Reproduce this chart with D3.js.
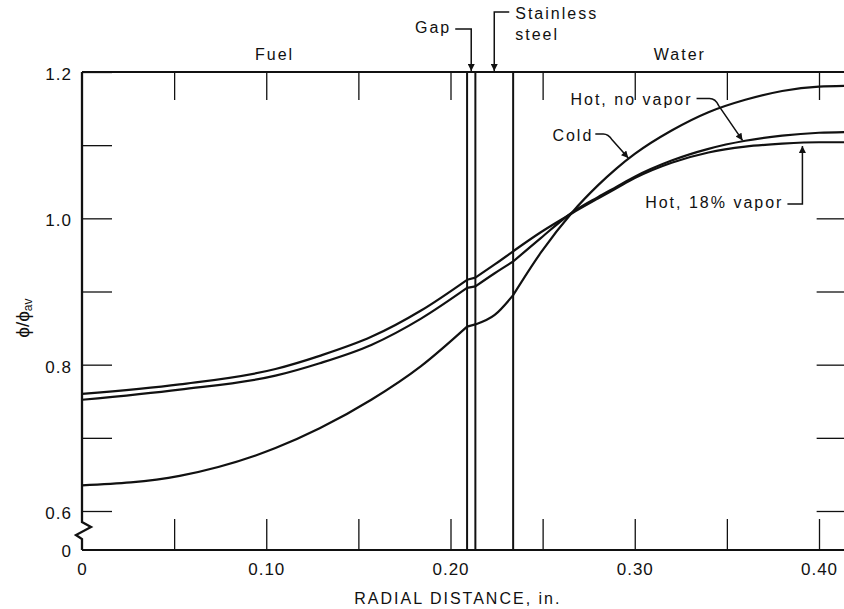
<!DOCTYPE html>
<html>
<head>
<meta charset="utf-8">
<script src="https://cdn.jsdelivr.net/npm/d3@7"></script>
<style>
  html, body { margin: 0; padding: 0; background: #fff; }
  svg { display: block; }
  text { font-family: "Liberation Sans", Arial, Helvetica, sans-serif; fill: #111; }
</style>
</head>
<body>
<svg id="chart" width="844" height="609"></svg>
<script>
// Radial positions (in.) at which the relative thermal flux is tabulated
const radialDistance = [0, 0.053, 0.105, 0.129, 0.157, 0.184, 0.209, 0.2135, 0.224, 0.234,
                        0.249, 0.266, 0.28, 0.29, 0.30, 0.32, 0.34, 0.36, 0.38, 0.40, 0.415];

// phi / phi_av for each moderator condition
const fluxCold       = [0.635, 0.648, 0.686, 0.713, 0.752, 0.798, 0.852, 0.855, 0.868, 0.895,
                        0.953, 1.008, 1.045, 1.068, 1.088, 1.120, 1.145, 1.162, 1.174, 1.180, 1.181];
const fluxHotNoVapor = [0.752, 0.766, 0.785, 0.802, 0.827, 0.863, 0.905, 0.907, 0.925, 0.941,
                        0.973, 1.008, 1.029, 1.043, 1.057, 1.079, 1.095, 1.106, 1.113, 1.117, 1.118];
const fluxHot18Vapor = [0.760, 0.773, 0.794, 0.812, 0.838, 0.874, 0.916, 0.919, 0.937, 0.955,
                        0.981, 1.007, 1.027, 1.041, 1.055, 1.076, 1.090, 1.098, 1.102, 1.104, 1.104];

// Material boundaries (in.): fuel surface, gap outer edge, stainless steel outer edge
const interfaces = [0.209, 0.2135, 0.234];
const cellEdge = 0.415;

// Axis ticks and labels
const xTickValues = [0, 0.05, 0.10, 0.15, 0.20, 0.25, 0.30, 0.35, 0.40];
const xTickLabels = new Map([[0, "0"], [0.10, "0.10"], [0.20, "0.20"], [0.30, "0.30"], [0.40, "0.40"]]);
const yTickValues = [0.6, 0.7, 0.8, 0.9, 1.0, 1.1, 1.2];
const yRightTickValues = [0.6, 0.7, 0.8, 0.9, 1.0];
const yTickLabels = new Map([[0.6, "0.6"], [0.8, "0.8"], [1.0, "1.0"], [1.2, "1.2"]]);
const yOriginLabel = "0";
const xTitle = "RADIAL DISTANCE, in.";

// Curve annotations
const seriesLabels = ["Cold", "Hot, no vapor", "Hot, 18% vapor"];

const ink = "#111";
const svg = d3.select("#chart");

const x = d3.scaleLinear().domain([0, cellEdge]).range([82, 82 + cellEdge * 1842.5]);
const y = d3.scaleLinear().domain([0.6, 1.2]).range([511, 72]);
const originY = 550;           // the axis origin sits below the broken scale
const x0 = x(0), xR = x(cellEdge), yTop = y(1.2);

function valueAt(series, xv) {
  const i = Math.max(1, d3.bisectLeft(radialDistance, xv));
  const xa = radialDistance[i - 1], xb = radialDistance[i];
  const t = (xv - xa) / (xb - xa);
  return series[i - 1] + t * (series[i] - series[i - 1]);
}

// Arrowhead marker
const defs = svg.append("defs");
defs.append("marker")
  .attr("id", "arrow")
  .attr("viewBox", "0 0 10 10")
  .attr("refX", 10).attr("refY", 5)
  .attr("markerUnits", "userSpaceOnUse")
  .attr("markerWidth", 8).attr("markerHeight", 7)
  .attr("orient", "auto")
  .append("path").attr("d", "M0,0 L10,5 L0,10 Z").attr("fill", ink);

// ---- Axes (ticks pointing inward) ----
function styleAxis(g) {
  g.select(".domain").remove();
  g.selectAll(".tick line").attr("stroke", ink).attr("stroke-width", 1.3);
  g.selectAll(".tick text")
    .attr("font-family", "Liberation Sans, Arial, sans-serif")
    .attr("font-size", 17)
    .attr("letter-spacing", 1)
    .attr("fill", ink);
}

svg.append("g")
  .attr("transform", `translate(0,${originY})`)
  .call(d3.axisBottom(x).tickValues(xTickValues).tickSize(-31).tickPadding(13)
    .tickFormat(d => xTickLabels.get(d) || ""))
  .call(styleAxis)
  .call(g => g.selectAll(".tick").filter(d => d === 0).select("line").remove());

svg.append("g")
  .attr("transform", `translate(0,${yTop})`)
  .call(d3.axisTop(x).tickValues(xTickValues.filter(d => d > 0)).tickSize(-28).tickFormat(""))
  .call(styleAxis);

svg.append("g")
  .attr("transform", `translate(${x0},0)`)
  .call(d3.axisLeft(y).tickValues(yTickValues).tickSize(-30).tickPadding(10)
    .tickFormat(d => yTickLabels.get(+d.toFixed(1)) || ""))
  .call(styleAxis)
  .call(g => g.selectAll(".tick text").attr("dy", "0.45em"));

svg.append("g")
  .attr("transform", `translate(${xR},0)`)
  .call(d3.axisRight(y).tickValues(yRightTickValues).tickSize(-30).tickFormat(""))
  .call(styleAxis);

// Origin label under the scale break
svg.append("text")
  .attr("x", x0 - 10).attr("y", originY + 7)
  .attr("text-anchor", "end")
  .attr("font-size", 17).attr("letter-spacing", 1)
  .text(yOriginLabel);

// Frame: top, bottom, right and the broken left axis
const frame = svg.append("g").attr("stroke", ink).attr("fill", "none").attr("stroke-width", 2);
frame.append("line").attr("x1", x0).attr("x2", xR).attr("y1", yTop).attr("y2", yTop);
frame.append("line").attr("x1", x0).attr("x2", xR).attr("y1", originY).attr("y2", originY);
frame.append("line").attr("x1", xR).attr("x2", xR).attr("y1", yTop).attr("y2", originY);
frame.append("path")
  .attr("stroke-width", 2.3)
  .attr("d", `M${x0},${yTop} V${originY - 28} L${x0 + 9},${originY - 23} L${x0 - 6},${originY - 15} L${x0},${originY - 11} V${originY}`);

// Material boundary lines
svg.append("g").selectAll("line").data(interfaces).join("line")
  .attr("x1", d => x(d)).attr("x2", d => x(d))
  .attr("y1", yTop).attr("y2", originY)
  .attr("stroke", ink).attr("stroke-width", 2);

// ---- Flux curves, drawn region by region so slopes break at each interface ----
const bounds = [0, ...interfaces, cellEdge];
const line = d3.line().x(d => x(d[0])).y(d => y(d[1])).curve(d3.curveMonotoneX);
const allSeries = [fluxCold, fluxHotNoVapor, fluxHot18Vapor];
const curves = svg.append("g").attr("fill", "none").attr("stroke", ink)
  .attr("stroke-width", 2.2).attr("stroke-linejoin", "round");
allSeries.forEach(series => {
  const pts = radialDistance.map((r, i) => [r, series[i]]);
  for (let k = 0; k < bounds.length - 1; k++) {
    const seg = pts.filter(p => p[0] >= bounds[k] - 1e-9 && p[0] <= bounds[k + 1] + 1e-9);
    curves.append("path").attr("d", line(seg));
  }
});

// ---- Region labels ----
const labelFont = g => g.attr("font-size", 16).attr("letter-spacing", 2);
svg.append("text").call(labelFont)
  .attr("x", x(interfaces[0] / 2)).attr("y", yTop - 12).attr("text-anchor", "middle").text("Fuel");
svg.append("text").call(labelFont)
  .attr("x", x((interfaces[2] + cellEdge) / 2)).attr("y", yTop - 12).attr("text-anchor", "middle").text("Water");

const ann = svg.append("g");
const leader = d => ann.append("path").attr("d", d).attr("fill", "none")
  .attr("stroke", ink).attr("stroke-width", 1.5).attr("marker-end", "url(#arrow)");

// Gap
const gapC = x((interfaces[0] + interfaces[1]) / 2);
ann.append("text").call(labelFont).attr("x", gapC - 20).attr("y", 33).attr("text-anchor", "end").text("Gap");
leader(`M${gapC - 16},29 H${gapC} V${yTop - 1}`);

// Stainless steel
const ssC = x((interfaces[1] + interfaces[2]) / 2);
ann.append("text").call(labelFont).attr("x", ssC + 21).attr("y", 19).text("Stainless");
ann.append("text").call(labelFont).attr("x", ssC + 21).attr("y", 40).text("steel");
leader(`M${ssC + 15},12 H${ssC} V${yTop - 1}`);

// Cold
{
  const tx = x(0.2965), ty = y(valueAt(fluxCold, 0.2965)) - 1;
  ann.append("text").call(labelFont).attr("x", tx - 35).attr("y", ty - 17).attr("text-anchor", "end").text(seriesLabels[0]);
  leader(`M${tx - 33},${ty - 24} H${tx - 25} Q${tx - 20},${ty - 24} ${tx - 16},${ty - 18} L${tx},${ty}`);
}
// Hot, no vapor
{
  const tx = x(0.3585), ty = y(valueAt(fluxHotNoVapor, 0.3585)) - 1;
  ann.append("text").call(labelFont).attr("x", tx - 50).attr("y", ty - 35).attr("text-anchor", "end").text(seriesLabels[1]);
  leader(`M${tx - 46},${ty - 42} H${tx - 33} Q${tx - 27},${ty - 42} ${tx - 24},${ty - 35} L${tx},${ty}`);
}
// Hot, 18% vapor
{
  const tx = x(0.391), ty = y(valueAt(fluxHot18Vapor, 0.391)) + 3;
  ann.append("text").call(labelFont).attr("x", tx - 19).attr("y", ty + 62).attr("text-anchor", "end").text(seriesLabels[2]);
  leader(`M${tx - 15},${ty + 58} H${tx} V${ty}`);
}

// ---- Axis titles ----
svg.append("text").call(labelFont)
  .attr("x", x(0.204)).attr("y", 604).attr("text-anchor", "middle").text(xTitle);

const yTitle = svg.append("text")
  .attr("transform", `translate(29,${(y(0.8) + y(0.9)) / 2 - 10}) rotate(-90)`)
  .attr("text-anchor", "middle")
  .attr("font-size", 19);
yTitle.append("tspan").text("\u03d5/\u03d5");
yTitle.append("tspan").attr("font-size", 12).attr("dy", 3).text("av");
</script>
</body>
</html>
